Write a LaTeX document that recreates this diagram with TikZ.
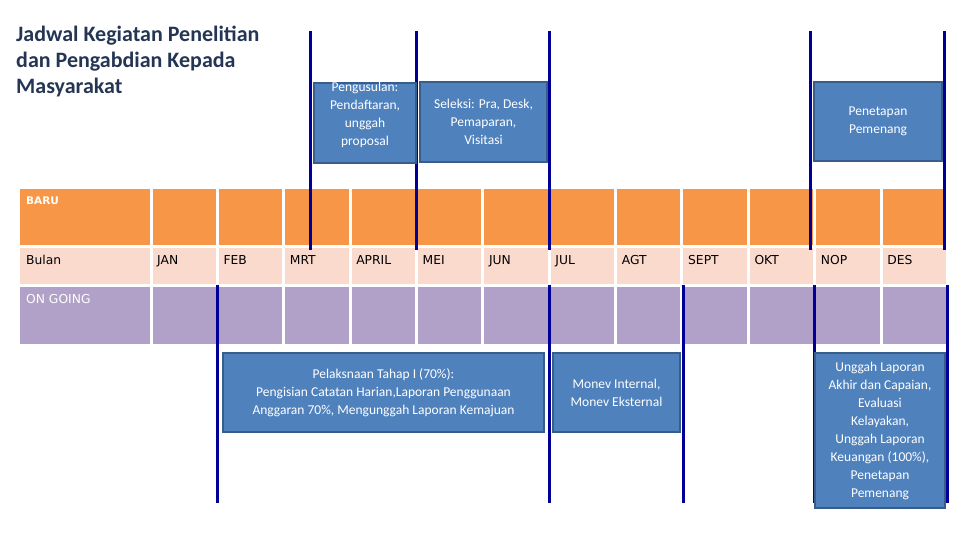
\documentclass[tikz,border=0pt]{standalone}
\usepackage{fontspec}
\setmainfont{Carlito}
\newfontfamily\tabelfont{DejaVu Sans}
\definecolor{baruorange}{RGB}{247,150,70}
\definecolor{bulanpink}{RGB}{251,218,206}
\definecolor{ongoingungu}{RGB}{177,160,199}
\definecolor{kotakfill}{RGB}{79,129,189}
\definecolor{kotakborder}{RGB}{56,93,138}
\definecolor{garisbiru}{RGB}{0,0,150}
\definecolor{judulbiru}{RGB}{36,54,84}
\begin{document}
\begin{tikzpicture}[x=1pt, y=-1pt,
    sel/.style={draw=white, line width=3pt},
    garis/.style={draw=garisbiru, line width=3pt},
    kotak/.style={draw=kotakborder, line width=2pt, fill=kotakfill, inner sep=0pt},
    tekskotak/.style={text=white, align=center, font=\fontsize{13.5}{18}\selectfont},
    teksbulan/.style={anchor=base west, inner sep=0pt, font=\tabelfont\fontsize{12.3}{15}\selectfont}]
    \useasboundingbox (0,0) rectangle (960,540);

    % Judul
    \node[anchor=north west, inner sep=0pt, align=left, text=judulbiru,
          font=\fontsize{22}{25.7}\selectfont\bfseries] (judul) at (16,26) {Jadwal Kegiatan Penelitian\\dan Pengabdian Kepada\\Masyarakat};

    % Kolom pertama
    \draw[sel, fill=baruorange] (18.5,187) rectangle (151,246.5);
    \draw[sel, fill=bulanpink] (18.5,246.5) rectangle (151,285.5);
    \draw[sel, fill=ongoingungu] (18.5,285.5) rectangle (151,345);
    \node[teksbulan, text=white, font=\tabelfont\fontsize{10.5}{15}\selectfont\bfseries] (baru) at (26,204.5) {BARU};
    \node[teksbulan] (bulan) at (26,264) {Bulan};
    \node[teksbulan, text=white] (ongoing) at (26,303) {ON GOING};

    % Kolom bulan
    \foreach \m [count=\i from 0] in {JAN,FEB,MRT,APRIL,MEI,JUN,JUL,AGT,SEPT,OKT,NOP,DES} {
        \pgfmathsetmacro\l{151+66.37*\i}
        \pgfmathsetmacro\r{\l+66.37}
        \draw[sel, fill=baruorange] (\l,187) rectangle (\r,246.5);
        \draw[sel, fill=bulanpink] (\l,246.5) rectangle (\r,285.5);
        \draw[sel, fill=ongoingungu] (\l,285.5) rectangle (\r,345);
        \node[teksbulan] (bln\i) at (\l+6,264) {\m};
    }

    % Garis tahap baru
    \foreach \x in {310, 416, 549, 810, 944}
        \draw[garis] (\x,31) -- (\x,250);

    % Garis tahap on going
    \foreach \x in {217, 549, 683, 814, 947}
        \draw[garis] (\x,285) -- (\x,503);

    % Kotak atas
    \node[kotak, minimum width=102pt, minimum height=80pt] (usul) at (365,123) {};
    \node[tekskotak, yshift=8pt] (usulteks) at (usul.center) {Pengusulan:\\Pendaftaran,\\unggah\\proposal};
    \node[kotak, tekskotak, minimum width=127pt, minimum height=80pt] (seleksi) at (483.5,122) {Seleksi: Pra, Desk,\\Pemaparan,\\Visitasi};
    \node[kotak, tekskotak, minimum width=128pt, minimum height=79pt] (penetapan) at (878,121.5) {Penetapan\\Pemenang};

    % Kotak bawah
    \node[kotak, tekskotak, minimum width=321pt, minimum height=79pt] (pelaksanaan) at (383.5,392.5) {Pelaksnaan Tahap I (70\%):\\Pengisian Catatan Harian,Laporan Penggunaan\\Anggaran 70\%, Mengunggah Laporan Kemajuan};
    \node[kotak, tekskotak, minimum width=127pt, minimum height=79pt] (monev) at (616.5,392.5) {Monev Internal,\\Monev Eksternal};
    \node[kotak, tekskotak, minimum width=130pt, minimum height=155pt] (akhir) at (880,430.5) {Unggah Laporan\\Akhir dan Capaian,\\Evaluasi\\Kelayakan,\\Unggah Laporan\\Keuangan (100\%),\\Penetapan\\Pemenang};
\end{tikzpicture}
\end{document}
